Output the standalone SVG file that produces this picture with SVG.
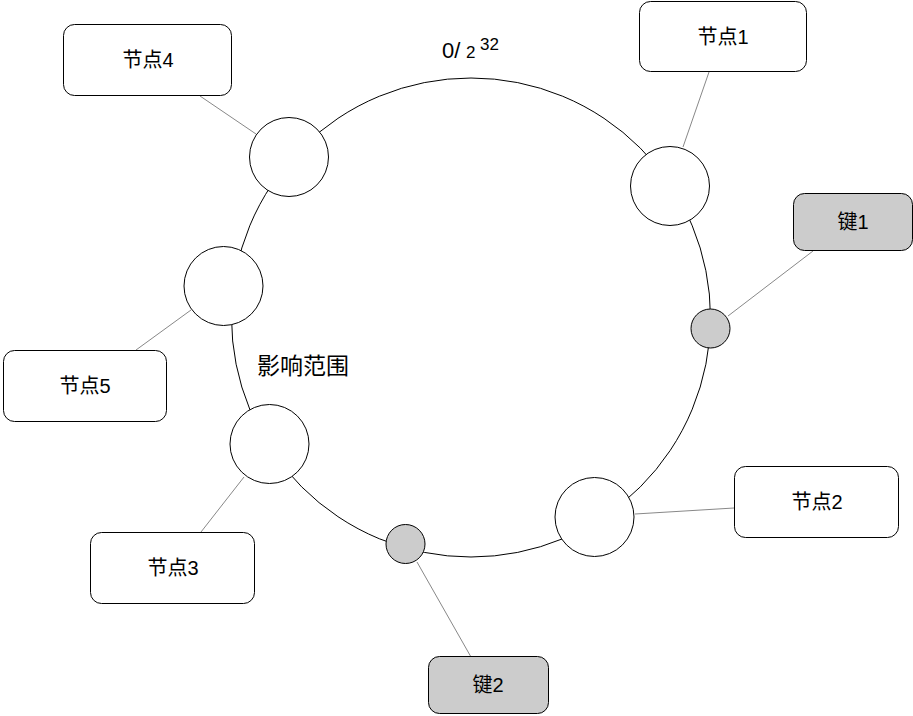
<svg xmlns="http://www.w3.org/2000/svg" width="913" height="716" viewBox="0 0 913 716">
<style>
.box{fill:#ffffff;stroke:#000000;stroke-width:1}
.key{fill:#cccccc;stroke:#000000;stroke-width:1}
.pt{fill:#ffffff;stroke:#000000;stroke-width:1}
.kpt{fill:#cccccc;stroke:#000000;stroke-width:1}
.ring{fill:none;stroke:#000000;stroke-width:1}
.con{stroke:#888888;stroke-width:1;fill:none}
text{font-family:"Liberation Sans","Noto Sans CJK SC",sans-serif;fill:#000000}
.lbl{font-size:20px;text-anchor:middle}
</style>
<rect width="913" height="716" fill="#ffffff"/>
<circle class="ring" cx="471" cy="317.5" r="239.5"/>
<text x="442" y="58" font-size="22">0/</text>
<text x="466" y="58" font-size="17">2</text>
<text x="480" y="50" font-size="17">32</text>
<text x="257" y="374" font-size="23">影响范围</text>
<g id="connectors">
<line class="con" x1="709" y1="72" x2="683" y2="147"/>
<line class="con" x1="200" y1="96" x2="256" y2="134"/>
<line class="con" x1="136" y1="350" x2="191" y2="310"/>
<line class="con" x1="201" y1="532" x2="244" y2="477"/>
<line class="con" x1="734" y1="508" x2="635" y2="514"/>
<line class="con" x1="813" y1="251" x2="728" y2="316"/>
<line class="con" x1="471" y1="657" x2="417" y2="562"/>
</g>
<g id="node1">
<rect class="box" x="639.5" y="1.5" width="167" height="70" rx="11"/>
<text class="lbl" x="723" y="44">节点1</text>
<circle class="pt" cx="670" cy="186" r="39.5"/>
</g>
<g id="node4">
<rect class="box" x="63.5" y="24.5" width="168" height="71" rx="11"/>
<text class="lbl" x="148" y="67">节点4</text>
<circle class="pt" cx="289" cy="157" r="39.5"/>
</g>
<g id="node5">
<rect class="box" x="3.5" y="350.5" width="163" height="71" rx="11"/>
<text class="lbl" x="85" y="393">节点5</text>
<circle class="pt" cx="223.5" cy="286" r="39.5"/>
</g>
<g id="node3">
<rect class="box" x="90.5" y="532.5" width="164" height="71" rx="11"/>
<text class="lbl" x="173" y="575">节点3</text>
<circle class="pt" cx="269.5" cy="444" r="39.5"/>
</g>
<g id="node2">
<rect class="box" x="734.5" y="466.5" width="164" height="71" rx="11"/>
<text class="lbl" x="817" y="509">节点2</text>
<circle class="pt" cx="594.5" cy="517" r="39.5"/>
</g>
<g id="key1">
<rect class="key" x="793.5" y="193.5" width="119" height="57" rx="11"/>
<text class="lbl" x="853" y="229">键1</text>
<circle class="kpt" cx="710.5" cy="328.5" r="19.5"/>
</g>
<g id="key2">
<rect class="key" x="428.5" y="656.5" width="120" height="57" rx="11"/>
<text class="lbl" x="488" y="692">键2</text>
<circle class="kpt" cx="405.5" cy="544" r="19.5"/>
</g>
</svg>
